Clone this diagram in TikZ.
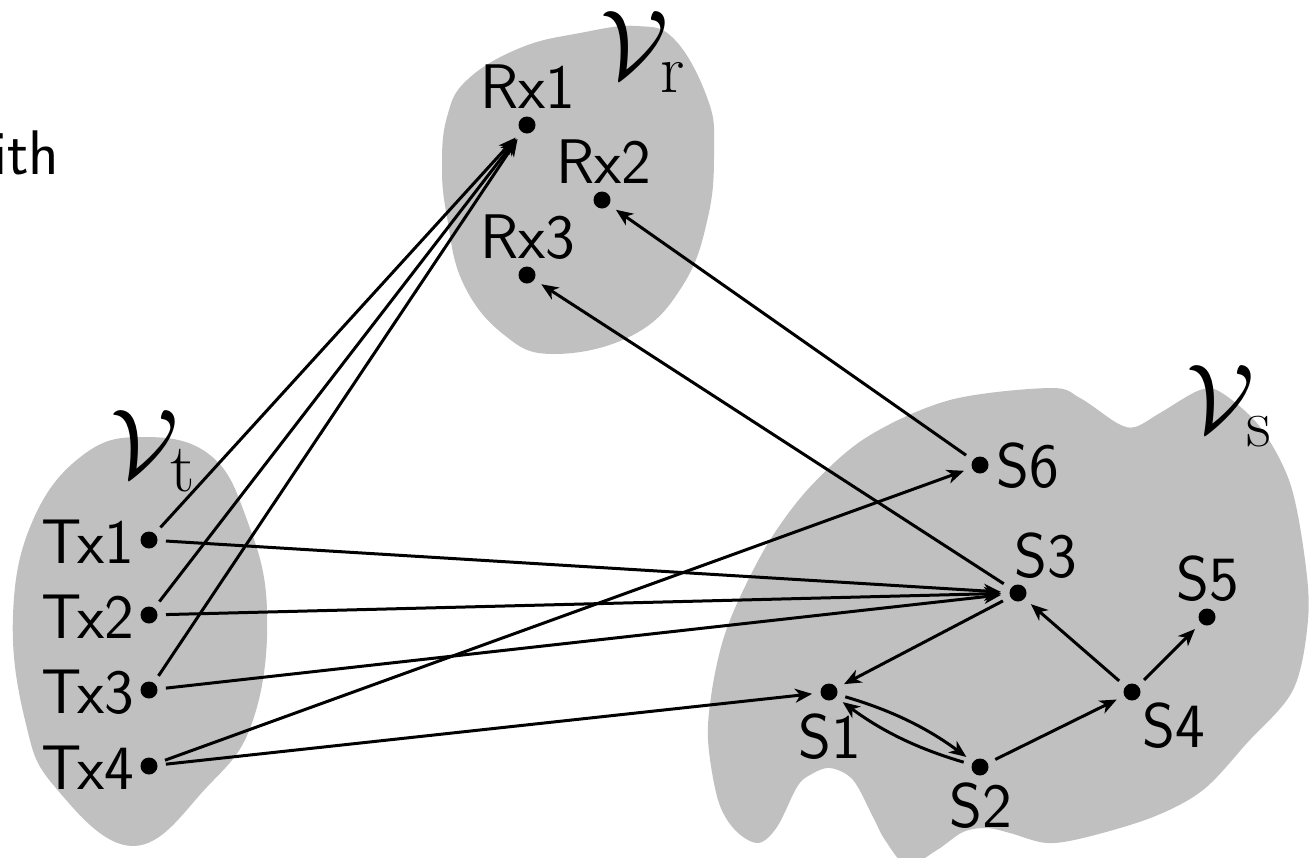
\RequirePackage{fix-cm}
\documentclass[tikz,border=0pt]{standalone}
\usepackage{fontspec}
\usetikzlibrary{arrows.meta}
\definecolor{blobgray}{RGB}{192,192,192}
\tikzset{
  blob/.style={fill=blobgray, draw=none},
  arr/.style={line width=3pt, -{Stealth[length=17pt, width=14pt, inset=5pt]}, shorten <=17pt, shorten >=17pt},
  dotmark/.style={fill=black},
  lbl/.style={inner sep=0pt, font=\sffamily\fontsize{63}{72}\selectfont},
  setlbl/.style={inner sep=0pt, font=\fontsize{98}{110}\selectfont}
}
\begin{document}
\begin{tikzpicture}[x=1pt, y=1pt]
\useasboundingbox (0,0) rectangle (1316,-857);
% blobs
\fill[blob] plot[smooth cycle, tension=0.7] coordinates {
 (637,-26) (675,-40) (708,-100) (714,-150) (708,-217) (683,-285) (633,-335)
 (553,-354) (503,-334) (463,-283) (447,-217) (442,-167) (447,-117) (467,-80)
 (520,-48) (580,-33)};
\fill[blob] plot[smooth cycle, tension=0.7] coordinates {
 (143,-437) (210,-455) (247,-520) (267,-610) (253,-720) (207,-787) (133,-846)
 (55,-787) (25,-720) (13,-615) (33,-520) (83,-455)};
\fill[blob] plot[smooth cycle, tension=0.55] coordinates {
 (723,-640) (740,-597) (770,-540) (810,-487) (867,-437) (950,-400) (1050,-388)
 (1080,-398) (1117,-423) (1135,-427) (1160,-413) (1200,-390) (1222,-393)
 (1260,-427) (1290,-483) (1305,-560) (1308,-620) (1293,-690) (1247,-743)
 (1203,-790) (1153,-817) (1087,-837) (1047,-843) (1010,-833) (987,-828) (963,-832)
 (937,-850) (907,-865) (885,-840) (873,-817) (853,-780) (830,-768) (810,-775)
 (797,-787) (777,-827) (758,-843) (735,-830) (718,-800) (708,-740) (712,-690)};
% points
\coordinate (Rx1) at (527,-125);
\coordinate (Rx2) at (602,-200);
\coordinate (Rx3) at (527,-275);
\coordinate (Tx1) at (149,-540);
\coordinate (Tx2) at (149,-615);
\coordinate (Tx3) at (149,-690);
\coordinate (Tx4) at (149,-766);
\coordinate (S1) at (829,-692);
\coordinate (S2) at (980,-767);
\coordinate (S3) at (1018,-593);
\coordinate (S4) at (1132,-692);
\coordinate (S5) at (1207,-617);
\coordinate (S6) at (980,-465);
% connectors
\draw[arr] (Tx1) -- (Rx1);
\draw[arr] (Tx2) -- (Rx1);
\draw[arr] (Tx3) -- (Rx1);
\draw[arr] (Tx1) -- (S3);
\draw[arr] (Tx2) -- (S3);
\draw[arr] (Tx3) -- (S3);
\draw[arr] (Tx4) -- (S6);
\draw[arr] (Tx4) -- (S1);
\draw[arr] (S6) -- (Rx2);
\draw[arr] (S3) -- (Rx3);
\draw[arr] (S3) -- (S1);
\draw[arr] (S1) to[bend left=10] (S2);
\draw[arr] (S2) to[bend left=10] (S1);
\draw[arr] (S2) -- (S4);
\draw[arr] (S4) -- (S3);
\draw[arr] (S4) -- (S5);
% dots
\foreach \p in {Rx1,Rx2,Rx3,Tx1,Tx2,Tx3,Tx4,S1,S2,S3,S4,S5,S6}
  \fill[dotmark] (\p) circle (8.5pt);
% labels
\node[lbl, anchor=base] (lRx1) at (528,-108) {Rx1};
\node[lbl, anchor=base] (lRx2) at (604,-183) {Rx2};
\node[lbl, anchor=base] (lRx3) at (528,-258) {Rx3};
\node[lbl, anchor=base east] (lTx1) at (134,-563) {Tx1};
\node[lbl, anchor=base east] (lTx2) at (134,-638) {Tx2};
\node[lbl, anchor=base east] (lTx3) at (134,-713) {Tx3};
\node[lbl, anchor=base east] (lTx4) at (134,-789) {Tx4};
\node[lbl, anchor=base west] (lS6) at (996,-487) {S6};
\node[lbl, anchor=base west] (lS3) at (1014,-577) {S3};
\node[lbl, anchor=base] (lS5) at (1208,-600) {S5};
\node[lbl, anchor=base west] (lS4) at (1142,-747) {S4};
\node[lbl, anchor=base] (lS1) at (830,-758) {S1};
\node[lbl, anchor=base] (lS2) at (981,-827) {S2};
\node[lbl, anchor=base west] (lith) at (-7,-174) {ith};
\node[setlbl, anchor=base west] (Vr) at (600,-78) {$\mathcal{V}_{\mathrm{r}}$};
\node[setlbl, anchor=base west] (Vt) at (110,-477) {$\mathcal{V}_{\mathrm{t}}$};
\node[setlbl, anchor=base west] (Vs) at (1186,-432) {$\mathcal{V}_{\mathrm{s}}$};
\end{tikzpicture}
\end{document}
